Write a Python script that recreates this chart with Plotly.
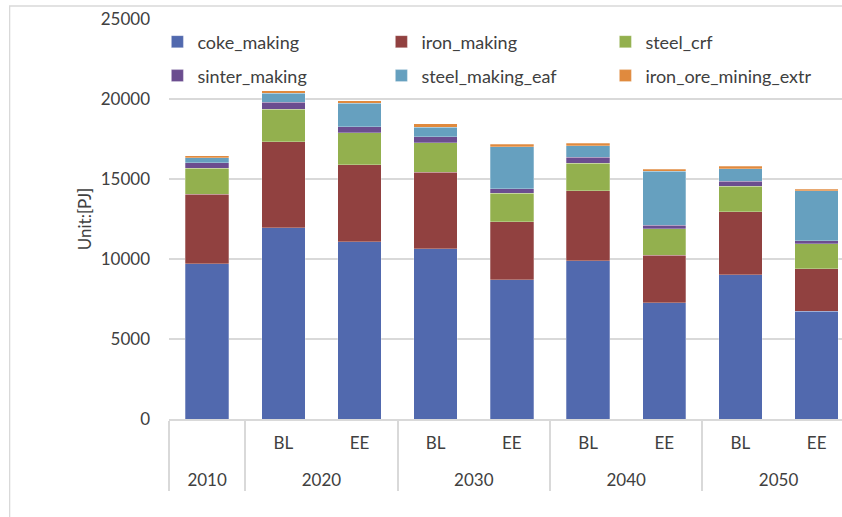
import plotly.graph_objects as go

# Category axis: year groups and scenario sub-labels
years = ["2010", "2020", "2020", "2030", "2030", "2040", "2040", "2050", "2050"]
scenarios = [" ", "BL", "EE", "BL", "EE", "BL", "EE", "BL", "EE"]

# Energy use by process step, PJ
coke_making = [9700, 11960, 11070, 10640, 8700, 9880, 7280, 9010, 6720]
iron_making = [4360, 5360, 4820, 4770, 3630, 4380, 2960, 3950, 2680]
steel_crf = [1600, 2040, 1990, 1850, 1770, 1730, 1660, 1580, 1540]
sinter_making = [350, 430, 400, 370, 290, 360, 210, 330, 190]
steel_making_eaf = [310, 570, 1450, 620, 2620, 740, 3380, 770, 3130]
iron_ore_mining_extr = [130, 160, 170, 190, 150, 150, 110, 160, 110]

series = [
    ("coke_making", coke_making, "#5169AE", "legend"),
    ("iron_making", iron_making, "#914140", "legend"),
    ("steel_crf", steel_crf, "#93B04E", "legend"),
    ("sinter_making", sinter_making, "#6B4D8F", "legend2"),
    ("steel_making_eaf", steel_making_eaf, "#66A0BF", "legend2"),
    ("iron_ore_mining_extr", iron_ore_mining_extr, "#E08A3E", "legend2"),
]

FONT = "Lato"
TXT = "#404040"
GRID = "#d9d9d9"

# taller sub-labels push the year row further below the axis
sub_labels = [s + "<br>\u00a0" for s in scenarios]

fig = go.Figure()
for name, vals, color, leg in series:
    fig.add_trace(go.Bar(
        x=[years, sub_labels], y=vals, name=name,
        marker=dict(color=color, line=dict(color="rgba(255,255,255,0.45)", width=0.6)),
        width=0.57, legend=leg,
    ))

legend_common = dict(
    orientation="h", xanchor="center", yanchor="middle",
    font=dict(family=FONT, size=18, color=TXT),
    bgcolor="rgba(0,0,0,0)", traceorder="normal",
    entrywidthmode="pixels", entrywidth=179,
)

fig.update_layout(
    width=842, height=517,
    margin=dict(l=169, r=0, t=19, b=98),
    paper_bgcolor="white", plot_bgcolor="white",
    barmode="stack", bargap=0.43,
    font=dict(family=FONT, size=17, color=TXT),
    legend=dict(x=0.482, y=0.9426, **legend_common),
    legend2=dict(x=0.482, y=0.8577, **legend_common),
    xaxis=dict(
        type="multicategory", range=[-0.5, 8.333],
        showline=True, linecolor=GRID, linewidth=1.5,
        showdividers=True, dividercolor=GRID, dividerwidth=1.5,
        tickfont=dict(family=FONT, size=17, color=TXT),
        ticks="", showgrid=False, ticklabelstandoff=8,
    ),
    yaxis=dict(
        range=[0, 25000], dtick=5000,
        showgrid=True, gridcolor=GRID, gridwidth=1.5,
        zeroline=False, showline=False,
        tickformat="d",
        tickfont=dict(family=FONT, size=17, color=TXT),
        ticklabelstandoff=18,
        title=dict(text="Unit:[PJ]", font=dict(family=FONT, size=17, color=TXT), standoff=4),
    ),
    shapes=[dict(
        type="rect", xref="paper", yref="paper",
        x0=-0.2368, x1=1.02, y0=-0.35, y1=1.0325,
        line=dict(color=GRID, width=1.3), fillcolor="rgba(0,0,0,0)", layer="below",
    )],
)

fig.write_html("out.html")
